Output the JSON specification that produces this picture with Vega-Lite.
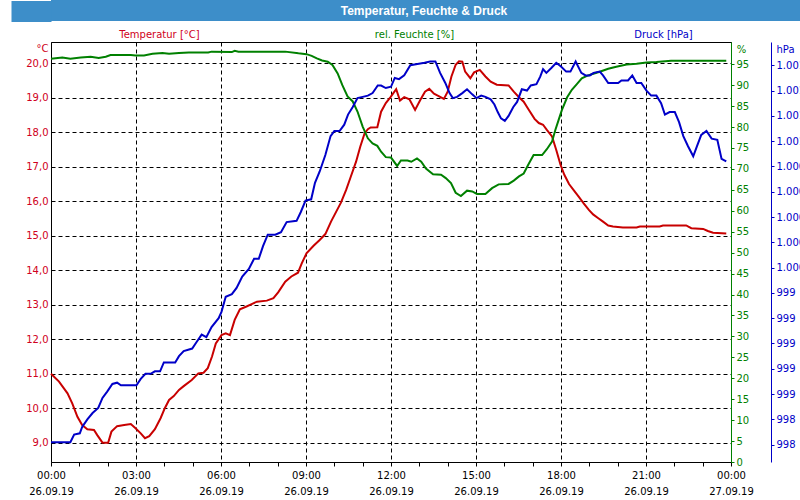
{
  "$schema": "https://vega.github.io/schema/vega-lite/v6.json",
  "padding": 0,
  "background": "white",
  "spacing": 6,
  "columns": 1,
  "datasets": {
    "header": [{"title": "Temperatur, Feuchte & Druck", "row": "title"}],
    "temp": [
      {"hour": 0, "v": 11.0}, {"hour": 0.283, "v": 10.77}, {"hour": 0.583, "v": 10.43}, {"hour": 0.75, "v": 10.14},
      {"hour": 0.933, "v": 9.75}, {"hour": 1.1, "v": 9.51}, {"hour": 1.283, "v": 9.39}, {"hour": 1.517, "v": 9.37},
      {"hour": 1.633, "v": 9.22}, {"hour": 1.817, "v": 9.0}, {"hour": 2.017, "v": 9.0}, {"hour": 2.133, "v": 9.32},
      {"hour": 2.333, "v": 9.48}, {"hour": 2.583, "v": 9.51}, {"hour": 2.817, "v": 9.54}, {"hour": 2.983, "v": 9.42},
      {"hour": 3.167, "v": 9.27}, {"hour": 3.317, "v": 9.13}, {"hour": 3.467, "v": 9.19}, {"hour": 3.667, "v": 9.39},
      {"hour": 3.867, "v": 9.71}, {"hour": 4.017, "v": 10.0}, {"hour": 4.167, "v": 10.24}, {"hour": 4.333, "v": 10.35},
      {"hour": 4.517, "v": 10.53}, {"hour": 4.683, "v": 10.64}, {"hour": 4.967, "v": 10.82}, {"hour": 5.2, "v": 11.01},
      {"hour": 5.383, "v": 11.03}, {"hour": 5.533, "v": 11.16}, {"hour": 5.683, "v": 11.5}, {"hour": 5.817, "v": 11.88},
      {"hour": 6.017, "v": 12.12}, {"hour": 6.167, "v": 12.17}, {"hour": 6.317, "v": 12.12}, {"hour": 6.483, "v": 12.56},
      {"hour": 6.667, "v": 12.87}, {"hour": 6.9, "v": 12.95}, {"hour": 7.083, "v": 13.02}, {"hour": 7.267, "v": 13.09},
      {"hour": 7.617, "v": 13.12}, {"hour": 7.85, "v": 13.19}, {"hour": 8.017, "v": 13.36}, {"hour": 8.267, "v": 13.67},
      {"hour": 8.483, "v": 13.82}, {"hour": 8.717, "v": 13.93}, {"hour": 8.85, "v": 14.2}, {"hour": 9.017, "v": 14.49},
      {"hour": 9.267, "v": 14.71}, {"hour": 9.483, "v": 14.88}, {"hour": 9.683, "v": 15.05}, {"hour": 9.883, "v": 15.41},
      {"hour": 10.067, "v": 15.7}, {"hour": 10.233, "v": 15.96}, {"hour": 10.417, "v": 16.33}, {"hour": 10.583, "v": 16.72},
      {"hour": 10.767, "v": 17.15}, {"hour": 10.917, "v": 17.59}, {"hour": 11.067, "v": 17.97}, {"hour": 11.183, "v": 18.09},
      {"hour": 11.283, "v": 18.14}, {"hour": 11.517, "v": 18.15}, {"hour": 11.65, "v": 18.6}, {"hour": 11.817, "v": 18.85},
      {"hour": 11.983, "v": 19.02}, {"hour": 12.183, "v": 19.25}, {"hour": 12.317, "v": 18.92}, {"hour": 12.467, "v": 19.02},
      {"hour": 12.65, "v": 18.96}, {"hour": 12.85, "v": 18.65}, {"hour": 13.033, "v": 18.94}, {"hour": 13.2, "v": 19.18},
      {"hour": 13.35, "v": 19.26}, {"hour": 13.517, "v": 19.12}, {"hour": 13.667, "v": 19.06}, {"hour": 13.867, "v": 18.97},
      {"hour": 14.0, "v": 19.18}, {"hour": 14.133, "v": 19.62}, {"hour": 14.283, "v": 19.96}, {"hour": 14.4, "v": 20.06},
      {"hour": 14.517, "v": 20.05}, {"hour": 14.617, "v": 19.76}, {"hour": 14.8, "v": 19.57}, {"hour": 14.933, "v": 19.74},
      {"hour": 15.133, "v": 19.81}, {"hour": 15.333, "v": 19.62}, {"hour": 15.517, "v": 19.47}, {"hour": 15.733, "v": 19.38},
      {"hour": 16.15, "v": 19.36}, {"hour": 16.333, "v": 19.18}, {"hour": 16.517, "v": 19.02}, {"hour": 16.683, "v": 18.89},
      {"hour": 16.867, "v": 18.65}, {"hour": 17.067, "v": 18.39}, {"hour": 17.217, "v": 18.27}, {"hour": 17.367, "v": 18.22},
      {"hour": 17.5, "v": 18.07}, {"hour": 17.683, "v": 17.88}, {"hour": 17.833, "v": 17.49}, {"hour": 17.983, "v": 17.06},
      {"hour": 18.117, "v": 16.77}, {"hour": 18.283, "v": 16.5}, {"hour": 18.467, "v": 16.3}, {"hour": 18.617, "v": 16.14},
      {"hour": 18.8, "v": 15.94}, {"hour": 18.983, "v": 15.75}, {"hour": 19.133, "v": 15.62}, {"hour": 19.317, "v": 15.51},
      {"hour": 19.483, "v": 15.41}, {"hour": 19.667, "v": 15.3}, {"hour": 19.833, "v": 15.27}, {"hour": 20.183, "v": 15.24},
      {"hour": 20.667, "v": 15.24}, {"hour": 20.783, "v": 15.27}, {"hour": 21.483, "v": 15.27}, {"hour": 21.6, "v": 15.3},
      {"hour": 22.417, "v": 15.3}, {"hour": 22.6, "v": 15.22}, {"hour": 23.017, "v": 15.2}, {"hour": 23.183, "v": 15.14},
      {"hour": 23.367, "v": 15.09}, {"hour": 23.833, "v": 15.07}
    ],
    "hum": [
      {"hour": 0, "v": 96.3}, {"hour": 0.4, "v": 96.6}, {"hour": 0.683, "v": 96.3}, {"hour": 1.05, "v": 96.6},
      {"hour": 1.4, "v": 96.8}, {"hour": 1.683, "v": 96.5}, {"hour": 1.933, "v": 96.8}, {"hour": 2.1, "v": 97.2},
      {"hour": 2.817, "v": 97.2}, {"hour": 2.983, "v": 97.1}, {"hour": 3.283, "v": 97.1}, {"hour": 3.583, "v": 97.5},
      {"hour": 3.933, "v": 97.7}, {"hour": 4.167, "v": 97.5}, {"hour": 4.517, "v": 97.7}, {"hour": 4.867, "v": 97.8},
      {"hour": 5.55, "v": 97.8}, {"hour": 5.667, "v": 98.0}, {"hour": 6.383, "v": 97.9}, {"hour": 6.483, "v": 98.2},
      {"hour": 6.617, "v": 98.0}, {"hour": 8.267, "v": 98.0}, {"hour": 8.733, "v": 97.6}, {"hour": 9.017, "v": 97.4},
      {"hour": 9.2, "v": 97.0}, {"hour": 9.383, "v": 96.4}, {"hour": 9.567, "v": 95.9}, {"hour": 9.767, "v": 95.6},
      {"hour": 9.933, "v": 94.8}, {"hour": 10.117, "v": 92.8}, {"hour": 10.283, "v": 90.0}, {"hour": 10.467, "v": 87.3},
      {"hour": 10.65, "v": 86.1}, {"hour": 10.817, "v": 83.7}, {"hour": 11.0, "v": 80.1}, {"hour": 11.183, "v": 77.3},
      {"hour": 11.35, "v": 76.1}, {"hour": 11.517, "v": 75.5}, {"hour": 11.65, "v": 74.1}, {"hour": 11.817, "v": 72.8},
      {"hour": 12.0, "v": 72.7}, {"hour": 12.217, "v": 70.7}, {"hour": 12.35, "v": 72.0}, {"hour": 12.583, "v": 72.0},
      {"hour": 12.717, "v": 71.7}, {"hour": 12.917, "v": 72.5}, {"hour": 13.067, "v": 71.7}, {"hour": 13.233, "v": 70.1},
      {"hour": 13.483, "v": 68.7}, {"hour": 13.767, "v": 68.6}, {"hour": 13.933, "v": 67.8}, {"hour": 14.117, "v": 66.6},
      {"hour": 14.283, "v": 64.3}, {"hour": 14.467, "v": 63.5}, {"hour": 14.683, "v": 64.8}, {"hour": 14.867, "v": 64.6},
      {"hour": 15.033, "v": 64.0}, {"hour": 15.333, "v": 64.0}, {"hour": 15.567, "v": 65.4}, {"hour": 15.8, "v": 66.3},
      {"hour": 16.15, "v": 66.4}, {"hour": 16.333, "v": 67.2}, {"hour": 16.517, "v": 68.2}, {"hour": 16.683, "v": 68.9},
      {"hour": 16.867, "v": 71.3}, {"hour": 17.033, "v": 73.3}, {"hour": 17.333, "v": 73.3}, {"hour": 17.5, "v": 74.7},
      {"hour": 17.683, "v": 76.5}, {"hour": 17.8, "v": 79.3}, {"hour": 17.917, "v": 81.7}, {"hour": 18.033, "v": 84.1},
      {"hour": 18.217, "v": 87.1}, {"hour": 18.383, "v": 88.9}, {"hour": 18.567, "v": 90.3}, {"hour": 18.733, "v": 91.6},
      {"hour": 18.917, "v": 92.2}, {"hour": 19.083, "v": 92.6}, {"hour": 19.367, "v": 93.2}, {"hour": 19.667, "v": 93.9},
      {"hour": 19.95, "v": 94.4}, {"hour": 20.317, "v": 94.9}, {"hour": 20.667, "v": 95.1}, {"hour": 21.017, "v": 95.4},
      {"hour": 21.367, "v": 95.5}, {"hour": 21.883, "v": 95.8}, {"hour": 23.833, "v": 95.8}
    ],
    "pres": [
      {"hour": 0, "v": 998.22}, {"hour": 0.683, "v": 998.22}, {"hour": 0.817, "v": 998.28}, {"hour": 1.017, "v": 998.29},
      {"hour": 1.1, "v": 998.34}, {"hour": 1.283, "v": 998.4}, {"hour": 1.467, "v": 998.45}, {"hour": 1.667, "v": 998.49},
      {"hour": 1.817, "v": 998.57}, {"hour": 1.983, "v": 998.62}, {"hour": 2.167, "v": 998.68}, {"hour": 2.333, "v": 998.69},
      {"hour": 2.467, "v": 998.67}, {"hour": 3.017, "v": 998.67}, {"hour": 3.167, "v": 998.72}, {"hour": 3.333, "v": 998.76},
      {"hour": 3.517, "v": 998.76}, {"hour": 3.667, "v": 998.78}, {"hour": 3.85, "v": 998.78}, {"hour": 3.983, "v": 998.85},
      {"hour": 4.383, "v": 998.85}, {"hour": 4.517, "v": 998.9}, {"hour": 4.683, "v": 998.94}, {"hour": 4.983, "v": 998.96},
      {"hour": 5.133, "v": 999.01}, {"hour": 5.317, "v": 999.07}, {"hour": 5.483, "v": 999.05}, {"hour": 5.667, "v": 999.13},
      {"hour": 5.917, "v": 999.2}, {"hour": 6.017, "v": 999.25}, {"hour": 6.167, "v": 999.37}, {"hour": 6.383, "v": 999.39},
      {"hour": 6.55, "v": 999.44}, {"hour": 6.75, "v": 999.53}, {"hour": 6.983, "v": 999.59}, {"hour": 7.167, "v": 999.67},
      {"hour": 7.333, "v": 999.67}, {"hour": 7.483, "v": 999.77}, {"hour": 7.65, "v": 999.86}, {"hour": 7.917, "v": 999.86},
      {"hour": 8.117, "v": 999.88}, {"hour": 8.317, "v": 999.96}, {"hour": 8.667, "v": 999.97}, {"hour": 8.817, "v": 1000.04},
      {"hour": 8.983, "v": 1000.13}, {"hour": 9.183, "v": 1000.14}, {"hour": 9.317, "v": 1000.27}, {"hour": 9.483, "v": 1000.36},
      {"hour": 9.683, "v": 1000.49}, {"hour": 9.867, "v": 1000.64}, {"hour": 10.0, "v": 1000.68}, {"hour": 10.183, "v": 1000.68},
      {"hour": 10.35, "v": 1000.73}, {"hour": 10.483, "v": 1000.81}, {"hour": 10.65, "v": 1000.87}, {"hour": 10.817, "v": 1000.94},
      {"hour": 11.0, "v": 1000.95}, {"hour": 11.183, "v": 1000.96}, {"hour": 11.35, "v": 1000.98}, {"hour": 11.533, "v": 1001.04},
      {"hour": 11.65, "v": 1001.04}, {"hour": 11.817, "v": 1001.02}, {"hour": 12.0, "v": 1001.03}, {"hour": 12.133, "v": 1001.1},
      {"hour": 12.283, "v": 1001.09}, {"hour": 12.467, "v": 1001.12}, {"hour": 12.683, "v": 1001.2}, {"hour": 12.933, "v": 1001.21},
      {"hour": 13.183, "v": 1001.22}, {"hour": 13.383, "v": 1001.23}, {"hour": 13.567, "v": 1001.23}, {"hour": 13.733, "v": 1001.14},
      {"hour": 13.917, "v": 1001.06}, {"hour": 14.067, "v": 1000.98}, {"hour": 14.183, "v": 1000.94}, {"hour": 14.333, "v": 1000.95},
      {"hour": 14.517, "v": 1000.98}, {"hour": 14.683, "v": 1001.01}, {"hour": 14.867, "v": 1000.97}, {"hour": 15.017, "v": 1000.94},
      {"hour": 15.183, "v": 1000.96}, {"hour": 15.333, "v": 1000.95}, {"hour": 15.517, "v": 1000.93}, {"hour": 15.65, "v": 1000.89},
      {"hour": 15.767, "v": 1000.83}, {"hour": 15.883, "v": 1000.78}, {"hour": 16.017, "v": 1000.76}, {"hour": 16.15, "v": 1000.8},
      {"hour": 16.317, "v": 1000.87}, {"hour": 16.45, "v": 1000.91}, {"hour": 16.617, "v": 1001.01}, {"hour": 16.8, "v": 1001.0},
      {"hour": 16.933, "v": 1001.04}, {"hour": 17.133, "v": 1001.05}, {"hour": 17.267, "v": 1001.11}, {"hour": 17.367, "v": 1001.17},
      {"hour": 17.483, "v": 1001.14}, {"hour": 17.667, "v": 1001.18}, {"hour": 17.833, "v": 1001.22}, {"hour": 18.0, "v": 1001.19},
      {"hour": 18.183, "v": 1001.15}, {"hour": 18.333, "v": 1001.15}, {"hour": 18.517, "v": 1001.23}, {"hour": 18.717, "v": 1001.14},
      {"hour": 18.867, "v": 1001.12}, {"hour": 19.017, "v": 1001.12}, {"hour": 19.15, "v": 1001.14}, {"hour": 19.367, "v": 1001.15},
      {"hour": 19.483, "v": 1001.12}, {"hour": 19.667, "v": 1001.06}, {"hour": 20.017, "v": 1001.06}, {"hour": 20.133, "v": 1001.08},
      {"hour": 20.367, "v": 1001.08}, {"hour": 20.517, "v": 1001.12}, {"hour": 20.667, "v": 1001.06}, {"hour": 20.833, "v": 1001.06},
      {"hour": 21.017, "v": 1001.0}, {"hour": 21.183, "v": 1000.96}, {"hour": 21.367, "v": 1000.96}, {"hour": 21.533, "v": 1000.9},
      {"hour": 21.667, "v": 1000.81}, {"hour": 21.833, "v": 1000.83}, {"hour": 22.017, "v": 1000.83}, {"hour": 22.167, "v": 1000.75},
      {"hour": 22.317, "v": 1000.64}, {"hour": 22.483, "v": 1000.56}, {"hour": 22.667, "v": 1000.48}, {"hour": 22.8, "v": 1000.56},
      {"hour": 22.95, "v": 1000.65}, {"hour": 23.133, "v": 1000.68}, {"hour": 23.317, "v": 1000.62}, {"hour": 23.517, "v": 1000.61},
      {"hour": 23.667, "v": 1000.46}, {"hour": 23.833, "v": 1000.44}
    ]
  },
  "concat": [
    {
      "width": 760,
      "height": 21,
      "view": {"fill": "#3d8ec9", "stroke": null},
      "data": {"name": "header"},
      "mark": {"type": "text", "color": "white", "font": "Liberation Sans", "fontSize": 12, "fontWeight": "bold", "baseline": "middle", "align": "center", "dx": -7},
      "encoding": {
        "text": {"field": "title", "type": "nominal"},
        "y": {
          "field": "row", "type": "nominal",
          "axis": {
            "orient": "left", "labels": false, "title": null, "domain": false, "grid": false,
            "ticks": true, "tickSize": 40, "tickWidth": 21, "tickColor": "#3d8ec9", "tickCap": "butt", "tickOpacity": 1
          }
        }
      }
    },
    {
      "width": 680,
      "height": 420,
      "view": {"stroke": "#000000", "strokeWidth": 1},
      "encoding": {
        "x": {
          "field": "hour", "type": "quantitative",
          "scale": {"domain": [0, 24], "nice": false, "zero": false},
          "axis": {
            "orient": "bottom",
            "values": [0, 1, 2, 3, 4, 5, 6, 7, 8, 9, 10, 11, 12, 13, 14, 15, 16, 17, 18, 19, 20, 21, 22, 23, 24],
            "labelExpr": "datum.value % 3 === 0 ? [(datum.value % 24 < 10 ? '0' : '') + (datum.value % 24) + ':00', datum.value < 24 ? '26.09.19' : '27.09.19'] : ''",
            "labelColor": "#000000",
            "labelFlush": false,
            "labelOverlap": false,
            "labelPadding": 4,
            "labelBaseline": "top",
            "labelLineHeight": 16,
            "grid": true, "gridColor": "#000000", "gridDash": [4, 3], "gridWidth": 1,
            "gridOpacity": {"condition": {"test": "datum.value % 3 === 0", "value": 1}, "value": 0},
            "ticks": true, "tickColor": "#000000", "tickSize": 4,
            "domain": true, "domainColor": "#000000",
            "title": null
          }
        }
      },
      "layer": [
        {
          "data": {"name": "temp"},
          "mark": {"type": "line", "color": "#c80000", "strokeWidth": 2},
          "encoding": {
            "y": {
              "field": "v", "type": "quantitative",
              "scale": {"domain": [8.44, 20.62], "nice": false, "zero": false},
              "axis": {
                "orient": "left",
                "values": [9, 10, 11, 12, 13, 14, 15, 16, 17, 18, 19, 20],
                "labelExpr": "replace(format(datum.value, '.1f'), '.', ',')",
                "labelColor": "#d00020",
                "ticks": false, "tickSize": 0,
                "labelPadding": 3,
                "domain": false,
                "grid": true, "gridColor": "#000000", "gridDash": [4, 3], "gridOpacity": 1, "gridWidth": 1,
                "title": "Temperatur [°C]",
                "titleX": 108, "titleY": -8, "titleAngle": 0, "titleAlign": "center", "titleBaseline": "middle",
                "titleColor": "#d00020"
              }
            }
          }
        },
        {
          "data": {"name": "hum"},
          "mark": {"type": "line", "color": "#008000", "strokeWidth": 2},
          "encoding": {
            "y": {
              "field": "v", "type": "quantitative",
              "scale": {"domain": [0, 100.3], "nice": false, "zero": false},
              "axis": {
                "orient": "right",
                "values": [0, 5, 10, 15, 20, 25, 30, 35, 40, 45, 50, 55, 60, 65, 70, 75, 80, 85, 90, 95],
                "labelColor": "#008000",
                "domain": true, "domainColor": "#008000",
                "ticks": true, "tickColor": "#008000", "tickSize": 3,
                "labelPadding": 2,
                "grid": false,
                "title": "rel. Feuchte [%]",
                "titleX": -317, "titleY": -8, "titleAngle": 0, "titleAlign": "center", "titleBaseline": "middle",
                "titleColor": "#008000"
              }
            }
          }
        },
        {
          "data": {"name": "pres"},
          "mark": {"type": "line", "color": "#0000c8", "strokeWidth": 2},
          "encoding": {
            "y": {
              "field": "v", "type": "quantitative",
              "scale": {"domain": [998.063, 1001.384], "nice": false, "zero": false},
              "axis": {
                "orient": "right",
                "offset": 40,
                "values": [998.2, 998.4, 998.6, 998.8, 999.0, 999.2, 999.4, 999.6, 999.8, 1000.0, 1000.2, 1000.4, 1000.6, 1000.8, 1001.0, 1001.2],
                "labelExpr": "replace(format(datum.value, ',.0f'), ',', '.')",
                "labelColor": "#0000c8",
                "domain": true, "domainColor": "#0000c8",
                "ticks": true, "tickColor": "#0000c8", "tickSize": 3,
                "labelPadding": 2,
                "grid": false,
                "title": "Druck [hPa]",
                "titleX": -108, "titleY": -8, "titleAngle": 0, "titleAlign": "center", "titleBaseline": "middle",
                "titleColor": "#0000c8"
              }
            }
          }
        },
        {
          "data": {"name": "temp"},
          "mark": {"type": "line", "opacity": 0},
          "encoding": {
            "y": {
              "field": "v", "type": "quantitative",
              "scale": {"domain": [8.44, 20.62], "nice": false, "zero": false},
              "axis": {
                "orient": "left", "labels": false, "ticks": false, "domain": false, "grid": false,
                "title": "°C",
                "titleX": -15, "titleY": 6, "titleAngle": 0, "titleAlign": "left", "titleBaseline": "middle",
                "titleColor": "#d00020"
              }
            }
          }
        },
        {
          "data": {"name": "hum"},
          "mark": {"type": "line", "opacity": 0},
          "encoding": {
            "y": {
              "field": "v", "type": "quantitative",
              "scale": {"domain": [0, 100.3], "nice": false, "zero": false},
              "axis": {
                "orient": "right", "labels": false, "ticks": false, "domain": false, "grid": false,
                "title": "%",
                "titleX": 10, "titleY": 7, "titleAngle": 0, "titleAlign": "center", "titleBaseline": "middle",
                "titleColor": "#008000"
              }
            }
          }
        },
        {
          "data": {"name": "pres"},
          "mark": {"type": "line", "opacity": 0},
          "encoding": {
            "y": {
              "field": "v", "type": "quantitative",
              "scale": {"domain": [998.063, 1001.384], "nice": false, "zero": false},
              "axis": {
                "orient": "right", "offset": 40, "labels": false, "ticks": false, "domain": false, "grid": false,
                "title": "hPa",
                "titleX": 5, "titleY": 7, "titleAngle": 0, "titleAlign": "left", "titleBaseline": "middle",
                "titleColor": "#0000c8"
              }
            }
          }
        }
      ],
      "resolve": {"scale": {"y": "independent"}, "axis": {"y": "independent"}}
    }
  ],
  "config": {
    "axis": {
      "labelFont": "DejaVu Sans", "labelFontSize": 10,
      "titleFont": "DejaVu Sans", "titleFontSize": 10, "titleFontWeight": "normal",
      "domainWidth": 1, "tickWidth": 1
    }
  }
}
